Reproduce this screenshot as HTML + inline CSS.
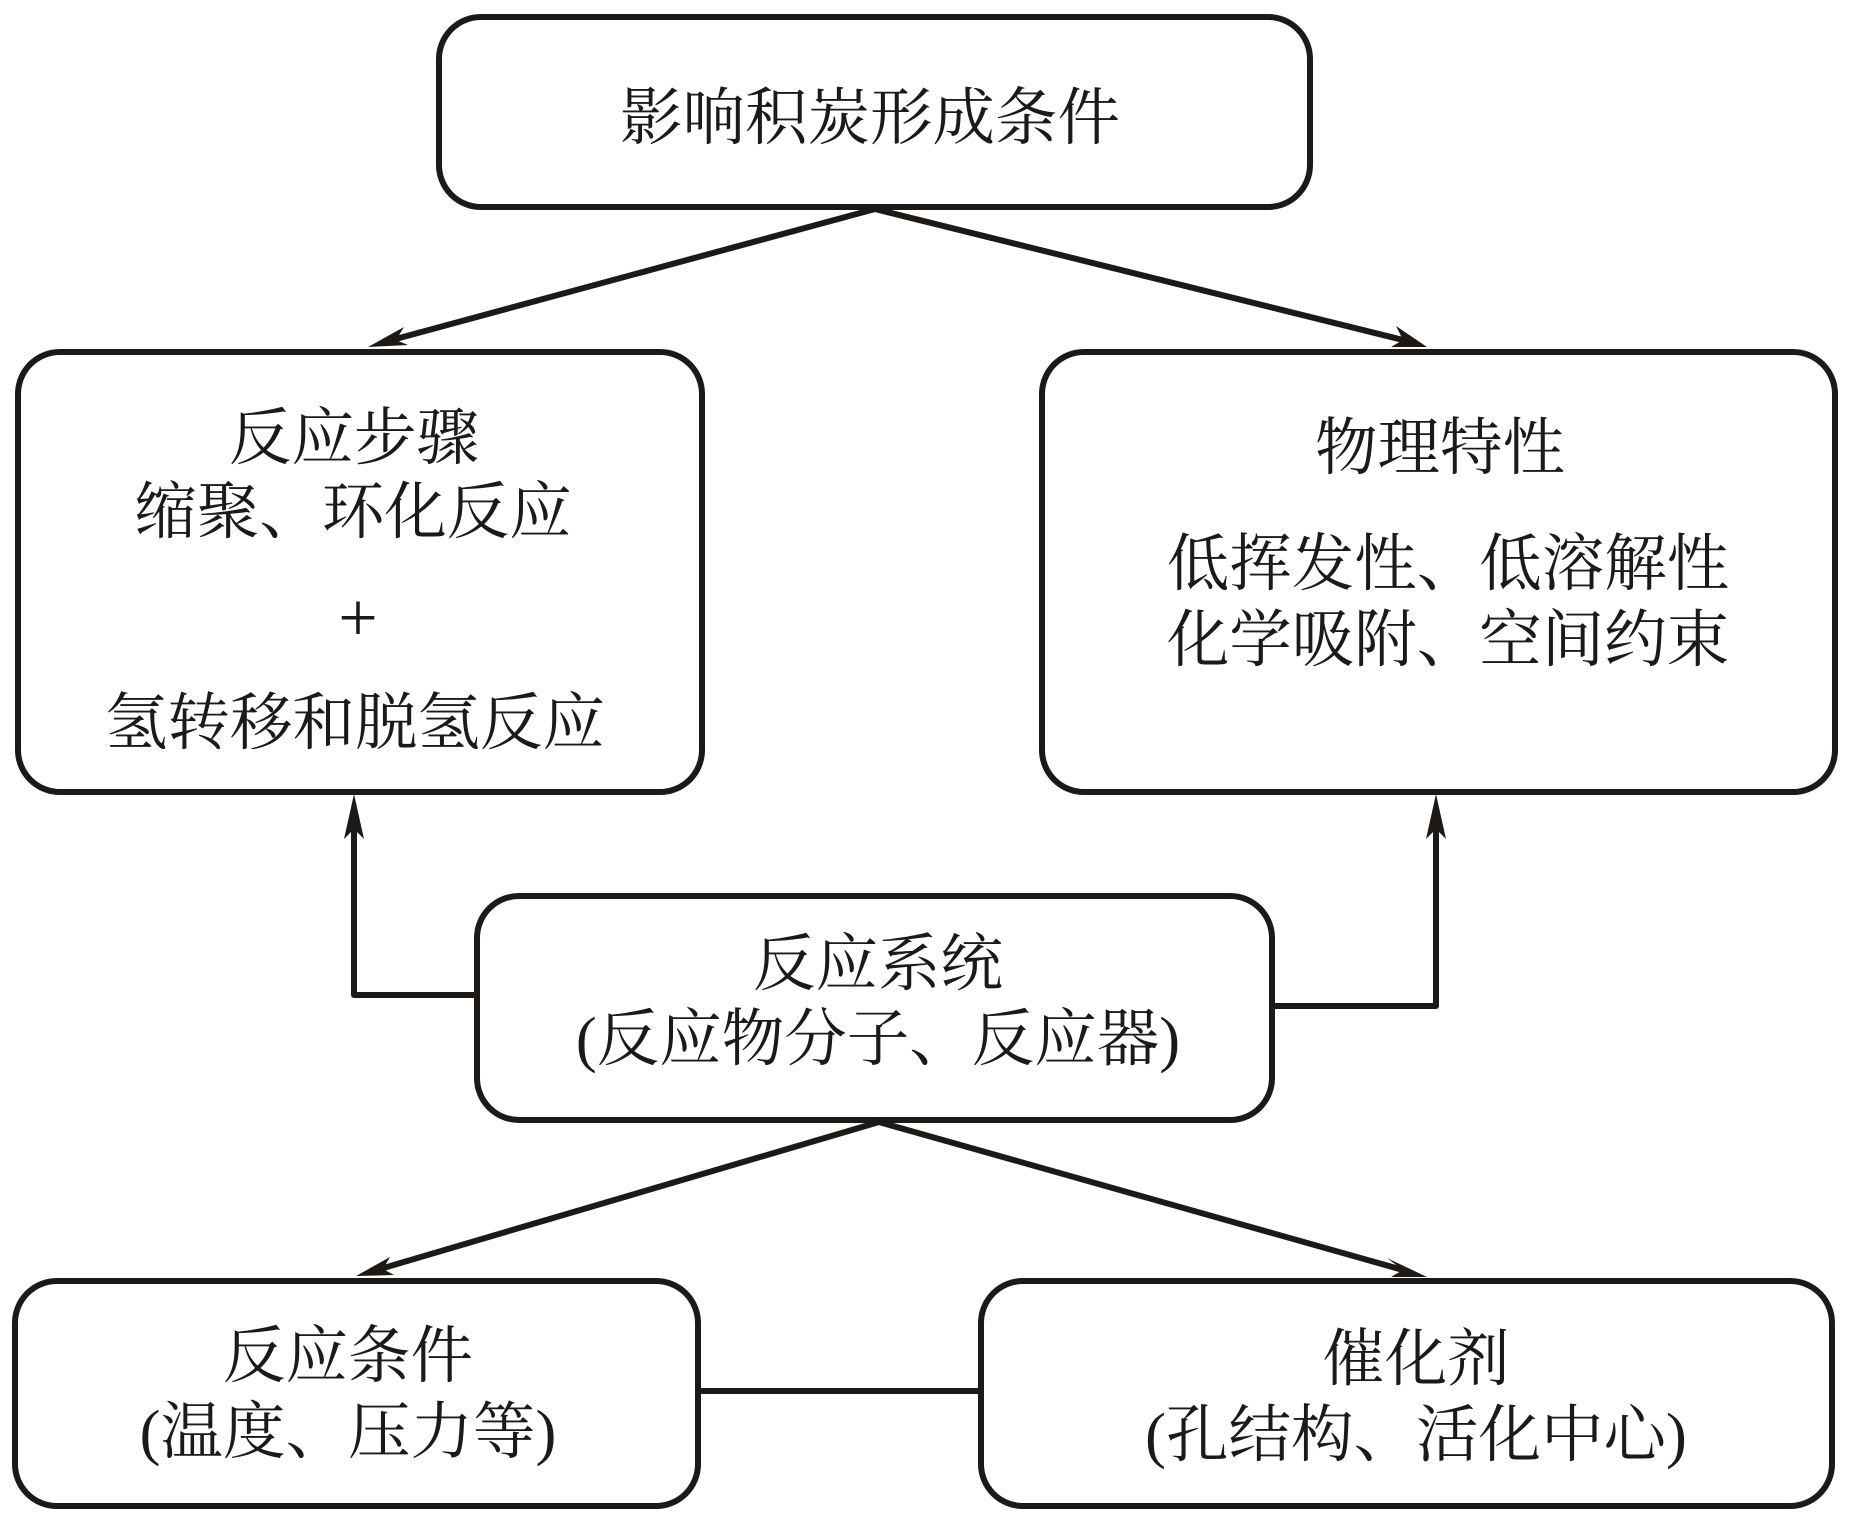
<!DOCTYPE html>
<html><head><meta charset="utf-8"><style>
html,body{margin:0;padding:0;background:#fff}
svg{display:block}
text{font-family:"Liberation Serif","Noto Serif CJK SC",serif;font-size:62.5px;fill:#1c1917;text-anchor:middle}
.b{fill:#fff;stroke:#1c1917;stroke-width:6}
.l{fill:none;stroke:#1c1917;stroke-width:6;stroke-linejoin:round}
.a{fill:#1c1917;stroke:none}
</style></head><body>
<svg width="1866" height="1527" viewBox="0 0 1866 1527" xmlns="http://www.w3.org/2000/svg">
<rect class="b" x="439" y="17" width="871" height="190" rx="42"/>
<rect class="b" x="18" y="352" width="684" height="440" rx="42"/>
<rect class="b" x="1042" y="352" width="793" height="440" rx="42"/>
<rect class="b" x="477" y="896" width="795" height="224" rx="42"/>
<rect class="b" x="15" y="1281" width="683" height="225" rx="42"/>
<rect class="b" x="981" y="1281" width="851" height="225" rx="42"/>

<path class="l" d="M875 209L392 340"/>
<path class="a" d="M368 347L404 327L396 340L408 345Z"/>
<path class="l" d="M875 209L1403 340"/>
<path class="a" d="M1427 347L1391 347L1403 340L1396 326Z"/>
<path class="l" d="M474 995H354V820"/>
<path class="a" d="M354 794L364 839L354 829L344 839Z"/>
<path class="l" d="M1274 1006H1436V820"/>
<path class="a" d="M1436 794L1446 839L1436 829L1426 839Z"/>
<path class="l" d="M879 1122L380 1269"/>
<path class="a" d="M356 1276L390 1257L383 1269L394 1275Z"/>
<path class="l" d="M879 1122L1403 1270"/>
<path class="a" d="M1427 1277L1391 1277L1403 1270L1387 1258Z"/>
<path class="l" d="M698 1391H981"/>

<text x="870" y="139">影响积炭形成条件</text>
<text x="354" y="459">反应步骤</text>
<text x="353" y="533">缩聚、环化反应</text>
<text x="358" y="641" style="font-size:70px">+</text>
<text x="355" y="744">氢转移和脱氢反应</text>
<text x="1440" y="469">物理特性</text>
<text x="1448" y="585">低挥发性、低溶解性</text>
<text x="1448" y="661">化学吸附、空间约束</text>
<text x="878" y="985">反应系统</text>
<text x="878" y="1060">(反应物分子、反应器)</text>
<text x="348" y="1377">反应条件</text>
<text x="348" y="1453">(温度、压力等)</text>
<text x="1416" y="1380">催化剂</text>
<text x="1416" y="1456">(孔结构、活化中心)</text>
</svg>
</body></html>
